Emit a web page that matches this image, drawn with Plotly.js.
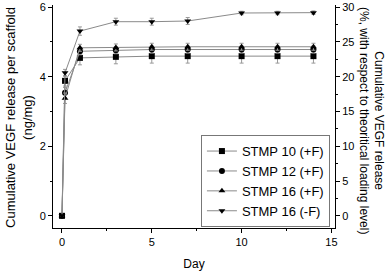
<!DOCTYPE html>
<html><head><meta charset="utf-8">
<script src="https://cdn.plot.ly/plotly-3.0.1.min.js"></script>
<style>body{margin:0;background:#fff}#c{width:389px;height:273px}</style>
</head><body><div id="c"></div>
<script>
const days = [0, 0.17, 1, 3, 5, 7, 10, 12, 14];
const seriesNames = ['STMP 10 (+F)', 'STMP 12 (+F)', 'STMP 16 (+F)', 'STMP 16 (-F)'];
const stmp10 = [0, 3.88, 4.54, 4.57, 4.59, 4.59, 4.59, 4.59, 4.59];
const stmp12 = [0, 3.54, 4.73, 4.76, 4.78, 4.78, 4.78, 4.78, 4.78];
const stmp16 = [0, 3.38, 4.83, 4.84, 4.86, 4.86, 4.86, 4.86, 4.86];
const stmp16nf = [0, 4.11, 5.31, 5.58, 5.58, 5.60, 5.83, 5.83, 5.84];
const err10 = [0, 0.15, 0.2, 0.2, 0.2, 0.2, 0.2, 0.2, 0.2];
const err12 = [0, 0.15, 0.1, 0.1, 0.1, 0.1, 0.1, 0.1, 0.1];
const err16 = [0, 0.15, 0.1, 0.1, 0.1, 0.1, 0.1, 0.1, 0.1];
const err16nf = [0, 0.1, 0.12, 0.1, 0.1, 0.1, 0.05, 0.05, 0.05];
const symbols = ['square', 'circle', 'triangle-up', 'triangle-down'];
const values = [stmp10, stmp12, stmp16, stmp16nf];
const errors = [err10, err12, err16, err16nf];

const font = 'Liberation Sans, Arial, sans-serif';
const traces = values.map((v, i) => ({
  x: days, y: v, name: seriesNames[i], type: 'scatter', mode: 'lines+markers',
  line: {color: '#8a8a8a', width: 1},
  marker: {symbol: symbols[i], color: '#000', size: 6},
  error_y: {type: 'data', array: errors[i], visible: true, color: '#999', thickness: 1, width: 2}
}));
traces.push({x: [0], y: [0], yaxis: 'y2', mode: 'markers', marker: {opacity: 0}, showlegend: false, hoverinfo: 'skip'});

const yr = [-0.35, 6.06];
const layout = {
  width: 389, height: 273,
  margin: {l: 53, r: 54, t: 5, b: 45},
  paper_bgcolor: '#fff', plot_bgcolor: '#fff',
  font: {family: font, size: 11, color: '#000'},
  showlegend: true,
  legend: {x: 0.982, xanchor: 'right', y: 0.004, yanchor: 'bottom', bgcolor: '#fff',
    bordercolor: '#777', borderwidth: 1, font: {size: 13, family: font}, tracegroupgap: 0, itemwidth: 30},
  xaxis: {range: [-0.5, 15.2], showgrid: false, zeroline: false, showline: true, linecolor: '#000', linewidth: 1,
    ticks: 'outside', ticklen: 4, tickcolor: '#000', tickvals: [0, 5, 10, 15],
    minor: {tickvals: [2.5, 7.5, 12.5], ticks: 'outside', ticklen: 2, tickcolor: '#000', showgrid: false},
    title: {text: 'Day', font: {size: 12}, standoff: 12}},
  yaxis: {range: yr, showgrid: false, zeroline: false, showline: true, linecolor: '#000', linewidth: 1,
    ticks: 'outside', ticklen: 4, tickcolor: '#000', tickvals: [0, 2, 4, 6],
    minor: {tickvals: [1, 3, 5], ticks: 'outside', ticklen: 2, tickcolor: '#000', showgrid: false}},
  yaxis2: {overlaying: 'y', side: 'right', range: [yr[0] * 5, yr[1] * 5], showgrid: false, zeroline: false,
    showline: true, linecolor: '#000', linewidth: 1, ticks: 'outside', ticklen: 4, tickcolor: '#000',
    tickvals: [0, 5, 10, 15, 20, 25, 30],
    minor: {tickvals: [2.5, 7.5, 12.5, 17.5, 22.5, 27.5], ticks: 'outside', ticklen: 2, tickcolor: '#000', showgrid: false}},
  annotations: [
    {text: 'Cumulative VEGF release per scaffold<br>(ng/mg)', xref: 'paper', yref: 'paper',
      x: -0.1206, y: 0.498, xanchor: 'center', yanchor: 'middle', textangle: -90, showarrow: false,
      font: {size: 13, family: font}},
    {text: 'Cumulative VEGF release<br>(%, with respect to theoritical loading level)', xref: 'paper', yref: 'paper',
      x: 1.128, y: 0.484, xanchor: 'center', yanchor: 'middle', textangle: 90, showarrow: false,
      font: {size: 12, family: font}}
  ]
};
Plotly.newPlot('c', traces, layout, {displayModeBar: false, staticPlot: true});
</script></body></html>
